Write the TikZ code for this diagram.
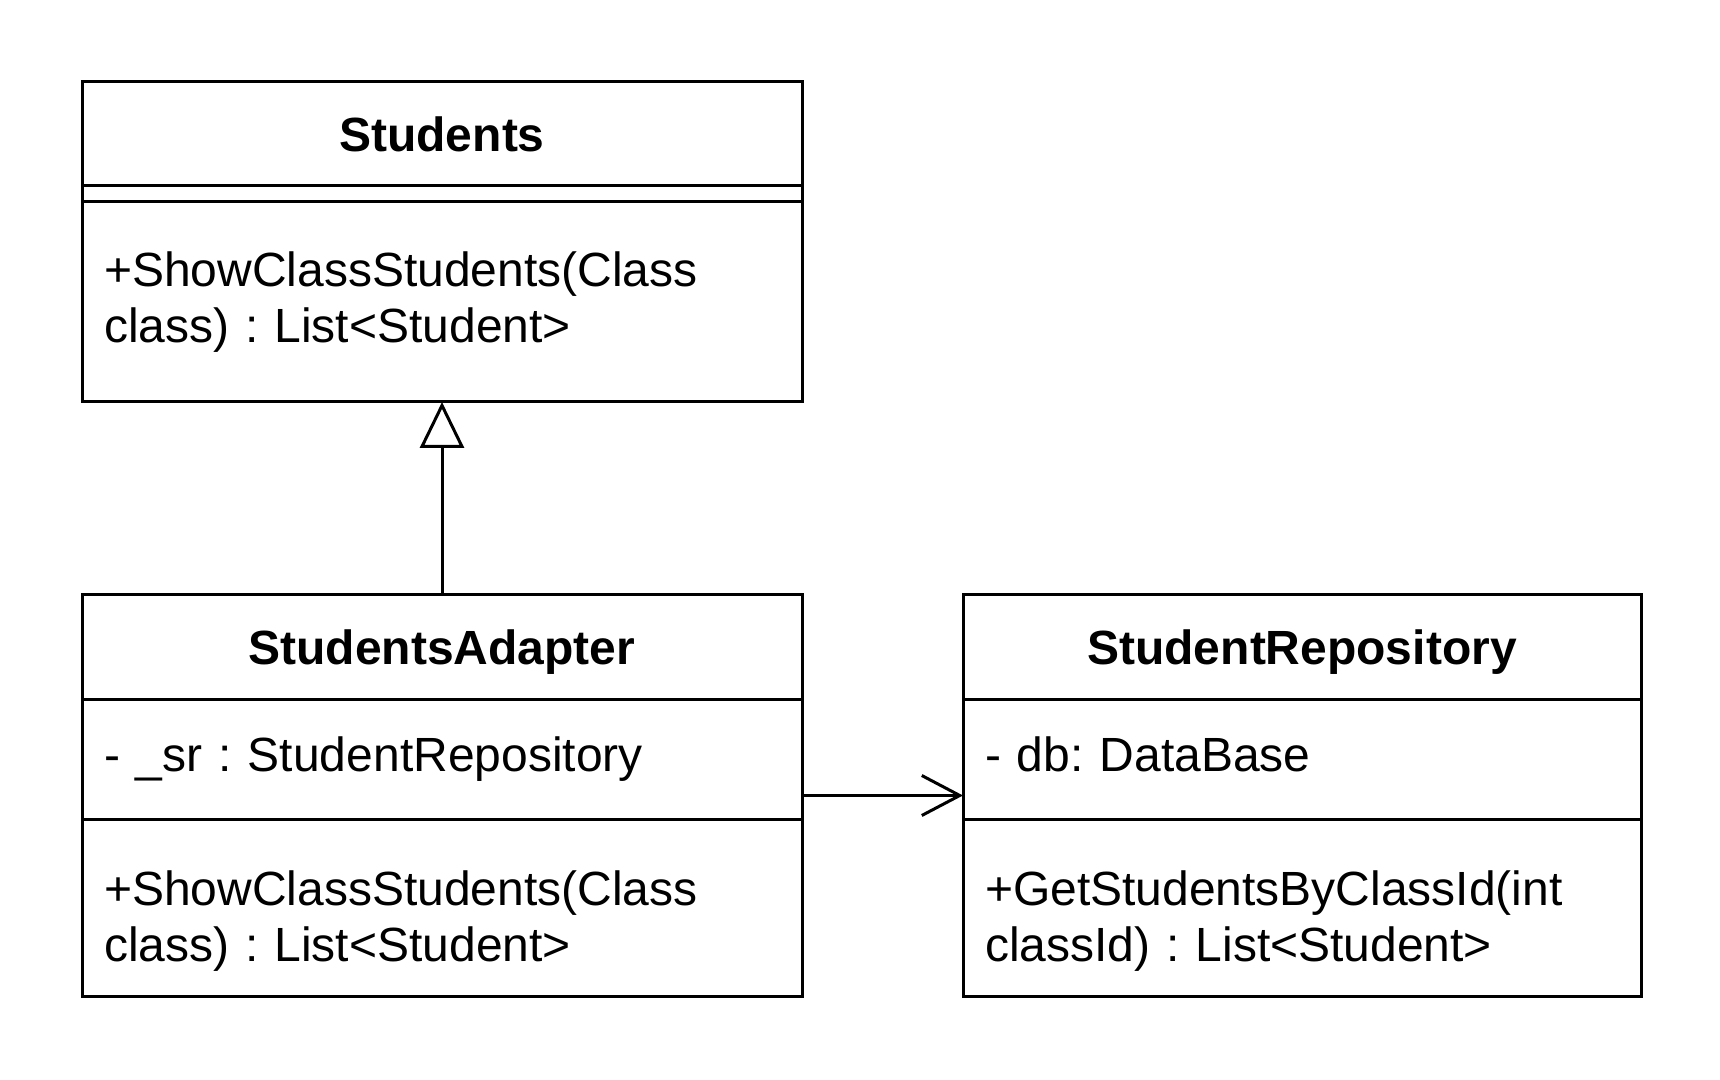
\documentclass[tikz,border=0pt]{standalone}
\usepackage{fontspec}
\setmainfont{Liberation Sans}
\usetikzlibrary{arrows.meta,fit}
\frenchspacing
\tikzstyle{compartment}=[shape = rectangle, draw, line width = 1.5pt, anchor = north west, outer sep = 0pt, inner xsep = 11pt, inner ysep = 0pt, align = left, font = \fontsize{24}{28}\selectfont]
\tikzstyle{titleBox}=[compartment, align = center, text height = 17.5pt, text depth = 0pt, font = \fontsize{24}{28}\selectfont\bfseries]

\begin{document}
\begin{tikzpicture}[x = 0.5pt, y = -0.5pt]
\tikzstyle{wideStyle} = [minimum width = 360pt, text width = 338pt]
\tikzstyle{narrowStyle} = [minimum width = 339pt, text width = 317pt]
\tikzstyle{fieldStyle} = [text height = 17.5pt, text depth = 4.7pt]
\tikzstyle{lowStyle} = [text height = 30.5pt]
\tikzstyle{classStyle} = [inner sep = 0pt, outer sep = 0pt]
\tikzstyle{realizeStyle} = [line width = 1.5pt, -{Triangle[open, length = 23pt, width = 22pt]}]
\tikzstyle{assocStyle} = [line width = 1.5pt, -{Straight Barb[length = 19pt, width = 20pt]}]
\useasboundingbox (0,0) rectangle (1720,1080);
\node[titleBox, wideStyle, minimum height = 52pt] (s0) at (82,82) {Students};
\node[compartment, minimum width = 360pt, minimum height = 8pt] (s1) at (82,186) {};
\node[compartment, wideStyle, minimum height = 100pt] (s2) at (82,202) {+ShowClassStudents(Class\\class) : List<Student>};
\node[titleBox, wideStyle, minimum height = 52pt] (a0) at (82,595) {StudentsAdapter};
\node[compartment, wideStyle, fieldStyle, minimum height = 60pt] (a1) at (82,699) {- \_sr : StudentRepository};
\node[compartment, wideStyle, lowStyle, minimum height = 88.5pt] (a2) at (82,819) {+ShowClassStudents(Class\\class) : List<Student>};
\node[titleBox, narrowStyle, minimum height = 52pt] (r0) at (963,595) {StudentRepository};
\node[compartment, narrowStyle, fieldStyle, minimum height = 60pt] (r1) at (963,699) {- db: DataBase};
\node[compartment, narrowStyle, lowStyle, minimum height = 88.5pt] (r2) at (963,819) {+GetStudentsByClassId(int\\classId) : List<Student>};
\node[fit = (s0)(s2), classStyle] (students) {};
\node[fit = (a0)(a2), classStyle] (adapter) {};
\node[fit = (r0)(r2), classStyle] (repository) {};
\draw[realizeStyle] (adapter) -- (students);
\draw[assocStyle] (adapter) -- (repository);
\end{tikzpicture}
\end{document}
